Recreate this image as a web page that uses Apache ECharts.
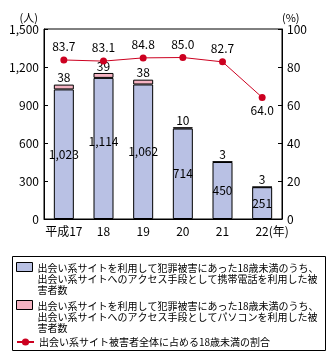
<!DOCTYPE html>
<html>
<head>
<meta charset="utf-8">
<script src="https://cdn.jsdelivr.net/npm/echarts@6/dist/echarts.min.js"></script>
<style>
  html, body { margin: 0; padding: 0; background: #fff; }
  #chart { width: 335px; height: 362px; }
</style>
</head>
<body>
<div id="chart"></div>
<script>
// Years (Heisei era)
const categories = ['平成17', '18', '19', '20', '21', '22(年)'];
// Victims under 18 who accessed dating sites by mobile phone
const mobileVictims = [1023, 1114, 1062, 714, 450, 251];
// Victims under 18 who accessed dating sites by PC
const pcVictims = [38, 39, 38, 10, 3, 3];
// Share of under-18s among all dating-site victims (%)
const under18Share = [83.7, 83.1, 84.8, 85.0, 82.7, 64.0];

const leftTicks = [0, 300, 600, 900, 1200, 1500];
const rightTicks = [0, 20, 40, 60, 80, 100];

const nameMobile = '出会い系サイトを利用して犯罪被害にあった18歳未満のうち、出会い系サイトへのアクセス手段として携帯電話を利用した被害者数';
const namePC = '出会い系サイトを利用して犯罪被害にあった18歳未満のうち、出会い系サイトへのアクセス手段としてパソコンを利用した被害者数';
const nameShare = '出会い系サイト被害者全体に占める18歳未満の割合';

const legendLines = {};
legendLines[nameMobile] = ['出会い系サイトを利用して犯罪被害にあった18歳未満のうち、', '出会い系サイトへのアクセス手段として携帯電話を利用した被', '害者数'];
legendLines[namePC] = ['出会い系サイトを利用して犯罪被害にあった18歳未満のうち、', '出会い系サイトへのアクセス手段としてパソコンを利用した被', '害者数'];
legendLines[nameShare] = [nameShare];

const FONT = '"Noto Sans CJK JP", "Noto Sans", sans-serif';
const BLUE = '#b9c1e4';
const PINK = '#f5b3c2';
const RED = '#cc0020';

// Swatch drawn at the top of a three-line legend entry
const TOP_SWATCH = 'path://M0,0H16V9H0Z M0,33h0.001';

const chart = echarts.init(document.getElementById('chart'), null, { renderer: 'canvas' });

const fmtComma = v => String(v).replace(/\B(?=(\d{3})+(?!\d))/g, ',');

const axisData = categories.map((c, i) => i === categories.length - 1
  ? { value: c, textStyle: { padding: [0, 0, 0, 20] } }
  : c);

const mobileData = mobileVictims.map((v, i) => i === 1
  ? { value: v, label: { offset: [0, -7] } }
  : v);

const legendText = {
  fontFamily: FONT, fontSize: 10, lineHeight: 11, color: '#000'
};

const option = {
  animation: false,
  textStyle: { fontFamily: FONT },
  grid: {
    left: 44, right: 53, top: 29, bottom: 143,
    show: true, borderColor: '#000', borderWidth: 1
  },
  xAxis: {
    type: 'category',
    data: axisData,
    axisLine: { lineStyle: { color: '#000', width: 1 } },
    axisTick: { inside: true, length: 4, lineStyle: { color: '#000' } },
    axisLabel: { interval: 0, color: '#000', fontSize: 12, margin: 6, fontFamily: FONT }
  },
  yAxis: [
    {
      type: 'value', min: 0, max: 1500, interval: 300,
      name: '(人)', nameLocation: 'end', nameGap: 6,
      nameTextStyle: { color: '#000', fontSize: 11, align: 'right', padding: [0, 6, 0, 0], fontFamily: FONT },
      axisLine: { show: true, lineStyle: { color: '#000' } },
      axisTick: { show: true, inside: true, length: 4, lineStyle: { color: '#000' } },
      splitLine: { show: false },
      axisLabel: {
        color: '#000', fontSize: 12, margin: 5, fontFamily: FONT,
        formatter: v => leftTicks.includes(v) ? fmtComma(v) : ''
      }
    },
    {
      type: 'value', min: 0, max: 100, interval: 20,
      name: '(%)', nameLocation: 'end', nameGap: 6,
      nameTextStyle: { color: '#000', fontSize: 11, align: 'left', padding: [0, 0, 0, 0], fontFamily: FONT },
      axisLine: { show: true, lineStyle: { color: '#000' } },
      axisTick: { show: true, inside: true, length: 4, lineStyle: { color: '#000' } },
      splitLine: { show: false },
      axisLabel: {
        color: '#000', fontSize: 12, margin: 5, fontFamily: FONT,
        formatter: v => rightTicks.includes(v) ? String(v) : ''
      }
    }
  ],
  legend: [
    {
      data: [{ name: nameMobile }],
      left: 16, top: 262, padding: 0,
      itemWidth: 16, itemHeight: 33, icon: TOP_SWATCH,
      itemStyle: { borderColor: '#000', borderWidth: 1 },
      textStyle: legendText,
      formatter: n => legendLines[n].join('\n'),
      selectedMode: false
    },
    {
      data: [{ name: namePC }],
      left: 16, top: 300, padding: 0,
      itemWidth: 16, itemHeight: 33, icon: TOP_SWATCH,
      itemStyle: { borderColor: '#000', borderWidth: 1 },
      textStyle: legendText,
      formatter: n => legendLines[n].join('\n'),
      selectedMode: false
    },
    {
      data: [{ name: nameShare }],
      left: 16, top: 336.5, padding: 0,
      itemWidth: 17, itemHeight: 9,
      textStyle: legendText,
      formatter: n => legendLines[n].join('\n'),
      selectedMode: false
    }
  ],
  graphic: [
    {
      type: 'rect',
      shape: { x: 12.5, y: 256.5, width: 313, height: 94 },
      style: { fill: 'none', stroke: '#000', lineWidth: 1 },
      silent: true
    }
  ],
  series: [
    {
      name: nameMobile,
      type: 'bar',
      stack: 'victims',
      barWidth: 20,
      data: mobileData,
      itemStyle: { color: BLUE, borderColor: '#000', borderWidth: 1 },
      label: {
        show: true, position: 'inside', color: '#000', fontSize: 12, fontFamily: FONT,
        formatter: p => fmtComma(p.value)
      }
    },
    {
      name: namePC,
      type: 'bar',
      stack: 'victims',
      barWidth: 20,
      data: pcVictims,
      itemStyle: { color: PINK, borderColor: '#000', borderWidth: 1 },
      label: {
        show: true, position: 'top', distance: 1, color: '#000', fontSize: 12, fontFamily: FONT
      }
    },
    {
      name: nameShare,
      type: 'line',
      yAxisIndex: 1,
      data: under18Share.map((v, i) => i === under18Share.length - 1
        ? { value: v, label: { position: 'bottom', distance: 4 } }
        : v),
      symbol: 'circle',
      symbolSize: 7,
      lineStyle: { color: RED, width: 1 },
      itemStyle: { color: RED },
      label: {
        show: true, position: 'top', distance: 4, color: '#000', fontSize: 12, fontFamily: FONT,
        formatter: p => p.value.toFixed(1)
      }
    }
  ]
};

chart.setOption(option);
</script>
</body>
</html>
